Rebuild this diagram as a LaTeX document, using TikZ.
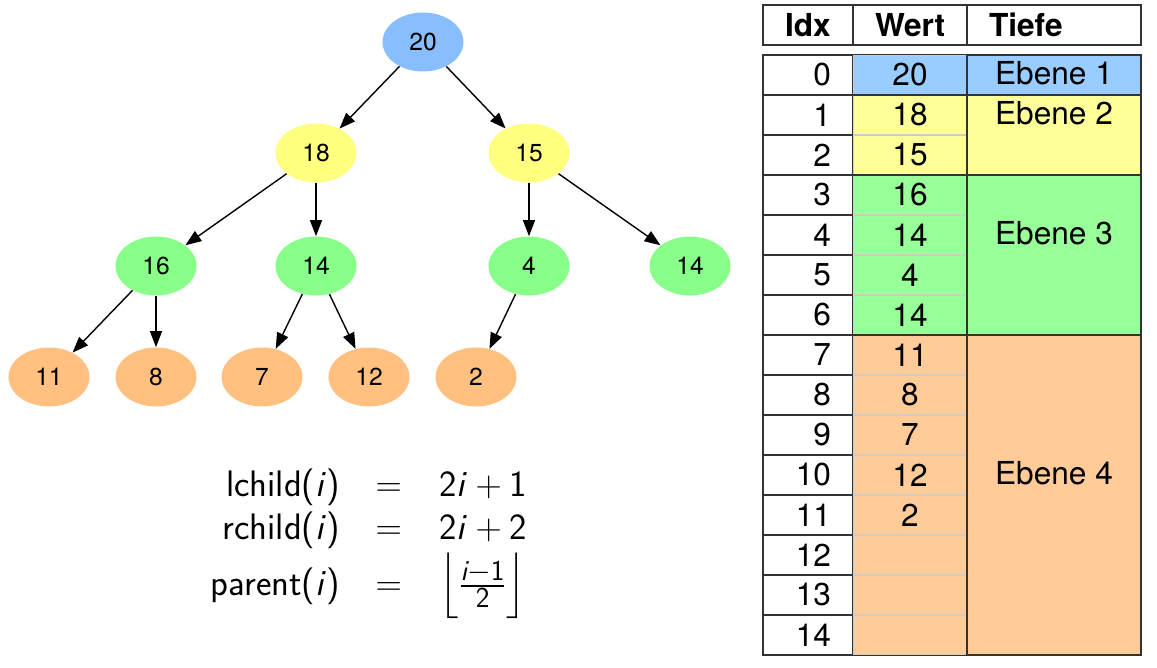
\documentclass[tikz,border=0pt]{standalone}
\usepackage{amsmath}
\usepackage{fontspec}
\setmainfont{TeX Gyre Heros}
\usetikzlibrary{shapes.geometric}
\usetikzlibrary{arrows.meta}
\usetikzlibrary{fit}
\definecolor{treeblue}{RGB}{136,190,255}
\definecolor{treeyellow}{RGB}{255,255,128}
\definecolor{treegreen}{RGB}{136,255,136}
\definecolor{treeorange}{RGB}{255,192,128}
\definecolor{tabblue}{RGB}{153,204,255}
\definecolor{tabyellow}{RGB}{255,255,153}
\definecolor{tabgreen}{RGB}{153,255,153}
\definecolor{taborange}{RGB}{255,204,153}
\definecolor{gridline}{RGB}{51,51,51}
\tikzstyle{heapnode}=[ellipse, minimum width=1.62cm, minimum height=1.18cm, inner sep=0, font=\fontsize{14}{17}\selectfont]
\tikzstyle{edge}=[-{Triangle[length=0.32cm, width=0.24cm]}, line width=0.8pt]
\tikzstyle{cell}=[draw=gridline, line width=0.7pt, minimum height=0.8cm, inner ysep=0, font=\fontsize{18}{21}\selectfont]
\tikzstyle{headcell}=[cell, align=left, inner xsep=0.44cm, font=\fontsize{18}{21}\selectfont\bfseries]
\tikzstyle{idxcell}=[cell, align=right, inner xsep=0.44cm, text width=0.92cm]
\tikzstyle{wertcell}=[cell, draw=black!20, minimum width=2.28cm]
\tikzstyle{tiefecell}=[cell, minimum width=3.48cm]
\tikzstyle{levelframe}=[draw=gridline, line width=0.7pt, inner sep=0]
\tikzstyle{levellabel}=[font=\fontsize{18}{21}\selectfont]
\newcommand{\fracsize}{\fontsize{16.5}{18}\selectfont}
\begin{document}
\begin{tikzpicture}[x=0.02cm, y=-0.02cm]
      \useasboundingbox (0,0) rectangle (1157,668);

      % heap as tree
      \node[heapnode, fill=treeblue] (h0) at (423,42) {20};
      \node[heapnode, fill=treeyellow] (h1) at (316,153) {18};
      \node[heapnode, fill=treeyellow] (h2) at (529,153) {15};
      \node[heapnode, fill=treegreen] (h3) at (156,266) {16};
      \node[heapnode, fill=treegreen] (h4) at (316,266) {14};
      \node[heapnode, fill=treegreen] (h5) at (529,266) {4};
      \node[heapnode, fill=treegreen] (h6) at (690,266) {14};
      \node[heapnode, fill=treeorange] (h7) at (49,377) {11};
      \node[heapnode, fill=treeorange] (h8) at (156,377) {8};
      \node[heapnode, fill=treeorange] (h9) at (262,377) {7};
      \node[heapnode, fill=treeorange] (h10) at (369,377) {12};
      \node[heapnode, fill=treeorange] (h11) at (476,377) {2};

      \foreach \p/\c in {0/1, 0/2, 1/3, 1/4, 2/5, 2/6, 3/7, 3/8, 4/9, 4/10, 5/11}
        \draw[edge] (h\p) -- (h\c);

      % index rules
      \node[font=\sffamily\fontsize{21}{25}\selectfont, inner sep=0] (rules) at (369,542) {%
        \begin{tabular}{@{}r@{\hspace{0.72cm}}c@{\hspace{0.75cm}}l@{}}
          lchild(\textit{i}) & $=$ & 2\textit{i}${}+{}$1\\
          rchild(\textit{i}) & $=$ & 2\textit{i}${}+{}$2\\
          parent(\textit{i}) & $=$ & $\Big\lfloor\frac{\text{\fracsize\itshape i\upshape$-$1}}{\text{\fracsize 2}}\Big\rfloor$
        \end{tabular}};

      % heap as array
      \node[headcell, text width=0.92cm] (hidx) at (808,25) {Idx};
      \node[headcell, text width=1.4cm] (hwert) at (910,25) {Wert};
      \node[headcell, text width=2.6cm] (htiefe) at (1054,25) {Tiefe};

      \foreach \i/\v/\c in {0/20/tabblue, 1/18/tabyellow, 2/15/tabyellow, 3/16/tabgreen, 4/14/tabgreen,
          5/4/tabgreen, 6/14/tabgreen, 7/11/taborange, 8/8/taborange, 9/7/taborange, 10/12/taborange,
          11/2/taborange, 12//taborange, 13//taborange, 14//taborange} {
        \node[idxcell] (idx\i) at (808,75+40*\i) {\i};
        \node[wertcell, fill=\c] (wert\i) at (910,75+40*\i) {\v};
      }

      \node[tiefecell, fill=tabblue, minimum height=0.8cm] (ebene1) at (1054,75) {};
      \node[tiefecell, fill=tabyellow, minimum height=1.6cm] (ebene2) at (1054,135) {};
      \node[tiefecell, fill=tabgreen, minimum height=3.2cm] (ebene3) at (1054,255) {};
      \node[tiefecell, fill=taborange, minimum height=6.4cm] (ebene4) at (1054,495) {};

      \node[levelframe, fit=(wert0)] (frame1) {};
      \node[levelframe, fit=(wert1) (wert2)] (frame2) {};
      \node[levelframe, fit=(wert3) (wert6)] (frame3) {};
      \node[levelframe, fit=(wert7) (wert14)] (frame4) {};

      \node[levellabel] (lab1) at (1054,73) {Ebene 1};
      \node[levellabel] (lab2) at (1054,113) {Ebene 2};
      \node[levellabel] (lab3) at (1054,233) {Ebene 3};
      \node[levellabel] (lab4) at (1054,473) {Ebene 4};
    \end{tikzpicture}
\end{document}
